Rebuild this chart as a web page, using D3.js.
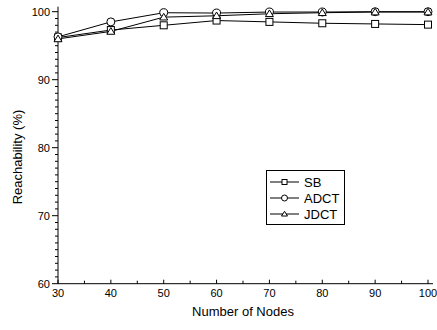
<!DOCTYPE html>
<html>
<head>
<meta charset="utf-8">
<script src="https://cdn.jsdelivr.net/npm/d3@7"></script>
<style>
  body { margin: 0; background: #fff; }
  svg text { font-family: Arial, "Liberation Sans", sans-serif; fill: #000; }
</style>
</head>
<body>
<svg id="chart" width="437" height="330"></svg>
<script>
// data
const nodes = [30, 40, 50, 60, 70, 80, 90, 100];
const sb   = [96.2, 97.3, 98.0, 98.7, 98.5, 98.3, 98.2, 98.1];
const adct = [96.3, 98.5, 99.85, 99.8, 99.95, 99.95, 100, 100];
const jdct = [96.0, 97.1, 99.2, 99.4, 99.7, 99.85, 99.95, 99.95];
const seriesNames = ["SB", "ADCT", "JDCT"];
const xTicks = [30, 40, 50, 60, 70, 80, 90, 100];
const yTicks = [60, 70, 80, 90, 100];

const svg = d3.select("#chart");
const mLeft = 58, mRight = 428, mTop = 11.7, mBottom = 283.7;

const x = d3.scaleLinear().domain([30, 100]).range([mLeft, mRight]);
const y = d3.scaleLinear().domain([60, 100]).range([mBottom, mTop]);

const g = svg.append("g");

// y axis: major ticks outside, minor every 1 unit
g.append("line").attr("x1", mLeft).attr("x2", mLeft).attr("y1", mTop - 5).attr("y2", mBottom)
  .attr("stroke", "#000");
d3.range(60, 101, 1).forEach(v => {
  const major = v % 10 === 0;
  g.append("line")
    .attr("x1", mLeft - (major ? 6 : 3)).attr("x2", mLeft)
    .attr("y1", y(v)).attr("y2", y(v))
    .attr("stroke", "#000");
});
yTicks.forEach(v => {
  g.append("text").attr("x", mLeft - 8).attr("y", y(v) + 4)
    .attr("text-anchor", "end").attr("font-size", 11).text(v);
});

// x axis: ticks point up
g.append("line").attr("x1", mLeft).attr("x2", mRight + 5).attr("y1", mBottom).attr("y2", mBottom)
  .attr("stroke", "#000");
d3.range(30, 101, 5).forEach(v => {
  const major = v % 10 === 0;
  g.append("line")
    .attr("x1", x(v)).attr("x2", x(v))
    .attr("y1", mBottom).attr("y2", mBottom - (major ? 4 : 3))
    .attr("stroke", "#000");
});
xTicks.forEach(v => {
  g.append("text").attr("x", x(v)).attr("y", mBottom + 13)
    .attr("text-anchor", "middle").attr("font-size", 11).text(v);
});

// axis titles
svg.append("text").attr("x", (mLeft + mRight) / 2).attr("y", 316)
  .attr("text-anchor", "middle").attr("font-size", 13).text("Number of Nodes");
svg.append("text").attr("transform", "translate(22,157) rotate(-90)")
  .attr("text-anchor", "middle").attr("font-size", 13).text("Reachability (%)");

// marker drawing
function marker(sel, type, cx, cy, s) {
  if (type === "SB") {
    sel.append("rect").attr("x", cx - s / 2).attr("y", cy - s / 2)
      .attr("width", s).attr("height", s)
      .attr("fill", "#fff").attr("stroke", "#000");
  } else if (type === "ADCT") {
    sel.append("circle").attr("cx", cx).attr("cy", cy).attr("r", s / 2 + 0.5)
      .attr("fill", "#fff").attr("stroke", "#000");
  } else {
    const h = s * 0.9;
    sel.append("path")
      .attr("d", `M${cx},${cy - h * 0.6}L${cx + s / 2 + 0.5},${cy + h * 0.45}L${cx - s / 2 - 0.5},${cy + h * 0.45}Z`)
      .attr("fill", "#fff").attr("stroke", "#000");
  }
}

const line = d3.line().x((d, i) => x(nodes[i])).y(d => y(d));
const all = [sb, adct, jdct];

all.forEach((vals, k) => {
  svg.append("path").datum(vals).attr("d", line)
    .attr("fill", "none").attr("stroke", "#000").attr("stroke-width", 1);
});
all.forEach((vals, k) => {
  const mg = svg.append("g");
  vals.forEach((v, i) => marker(mg, seriesNames[k], x(nodes[i]), y(v), 7));
});

// legend
const lg = svg.append("g");
lg.append("rect").attr("x", 266.5).attr("y", 170.5).attr("width", 78).attr("height", 54)
  .attr("fill", "#fff").attr("stroke", "#000");
const rowY = [182, 198, 214];
seriesNames.forEach((n, i) => {
  lg.append("line").attr("x1", 270).attr("x2", 299).attr("y1", rowY[i]).attr("y2", rowY[i])
    .attr("stroke", "#000");
  marker(lg, n, 284.5, rowY[i], 5);
  lg.append("text").attr("x", 304).attr("y", rowY[i] + 5).attr("font-size", 13).text(n);
});
</script>
</body>
</html>
